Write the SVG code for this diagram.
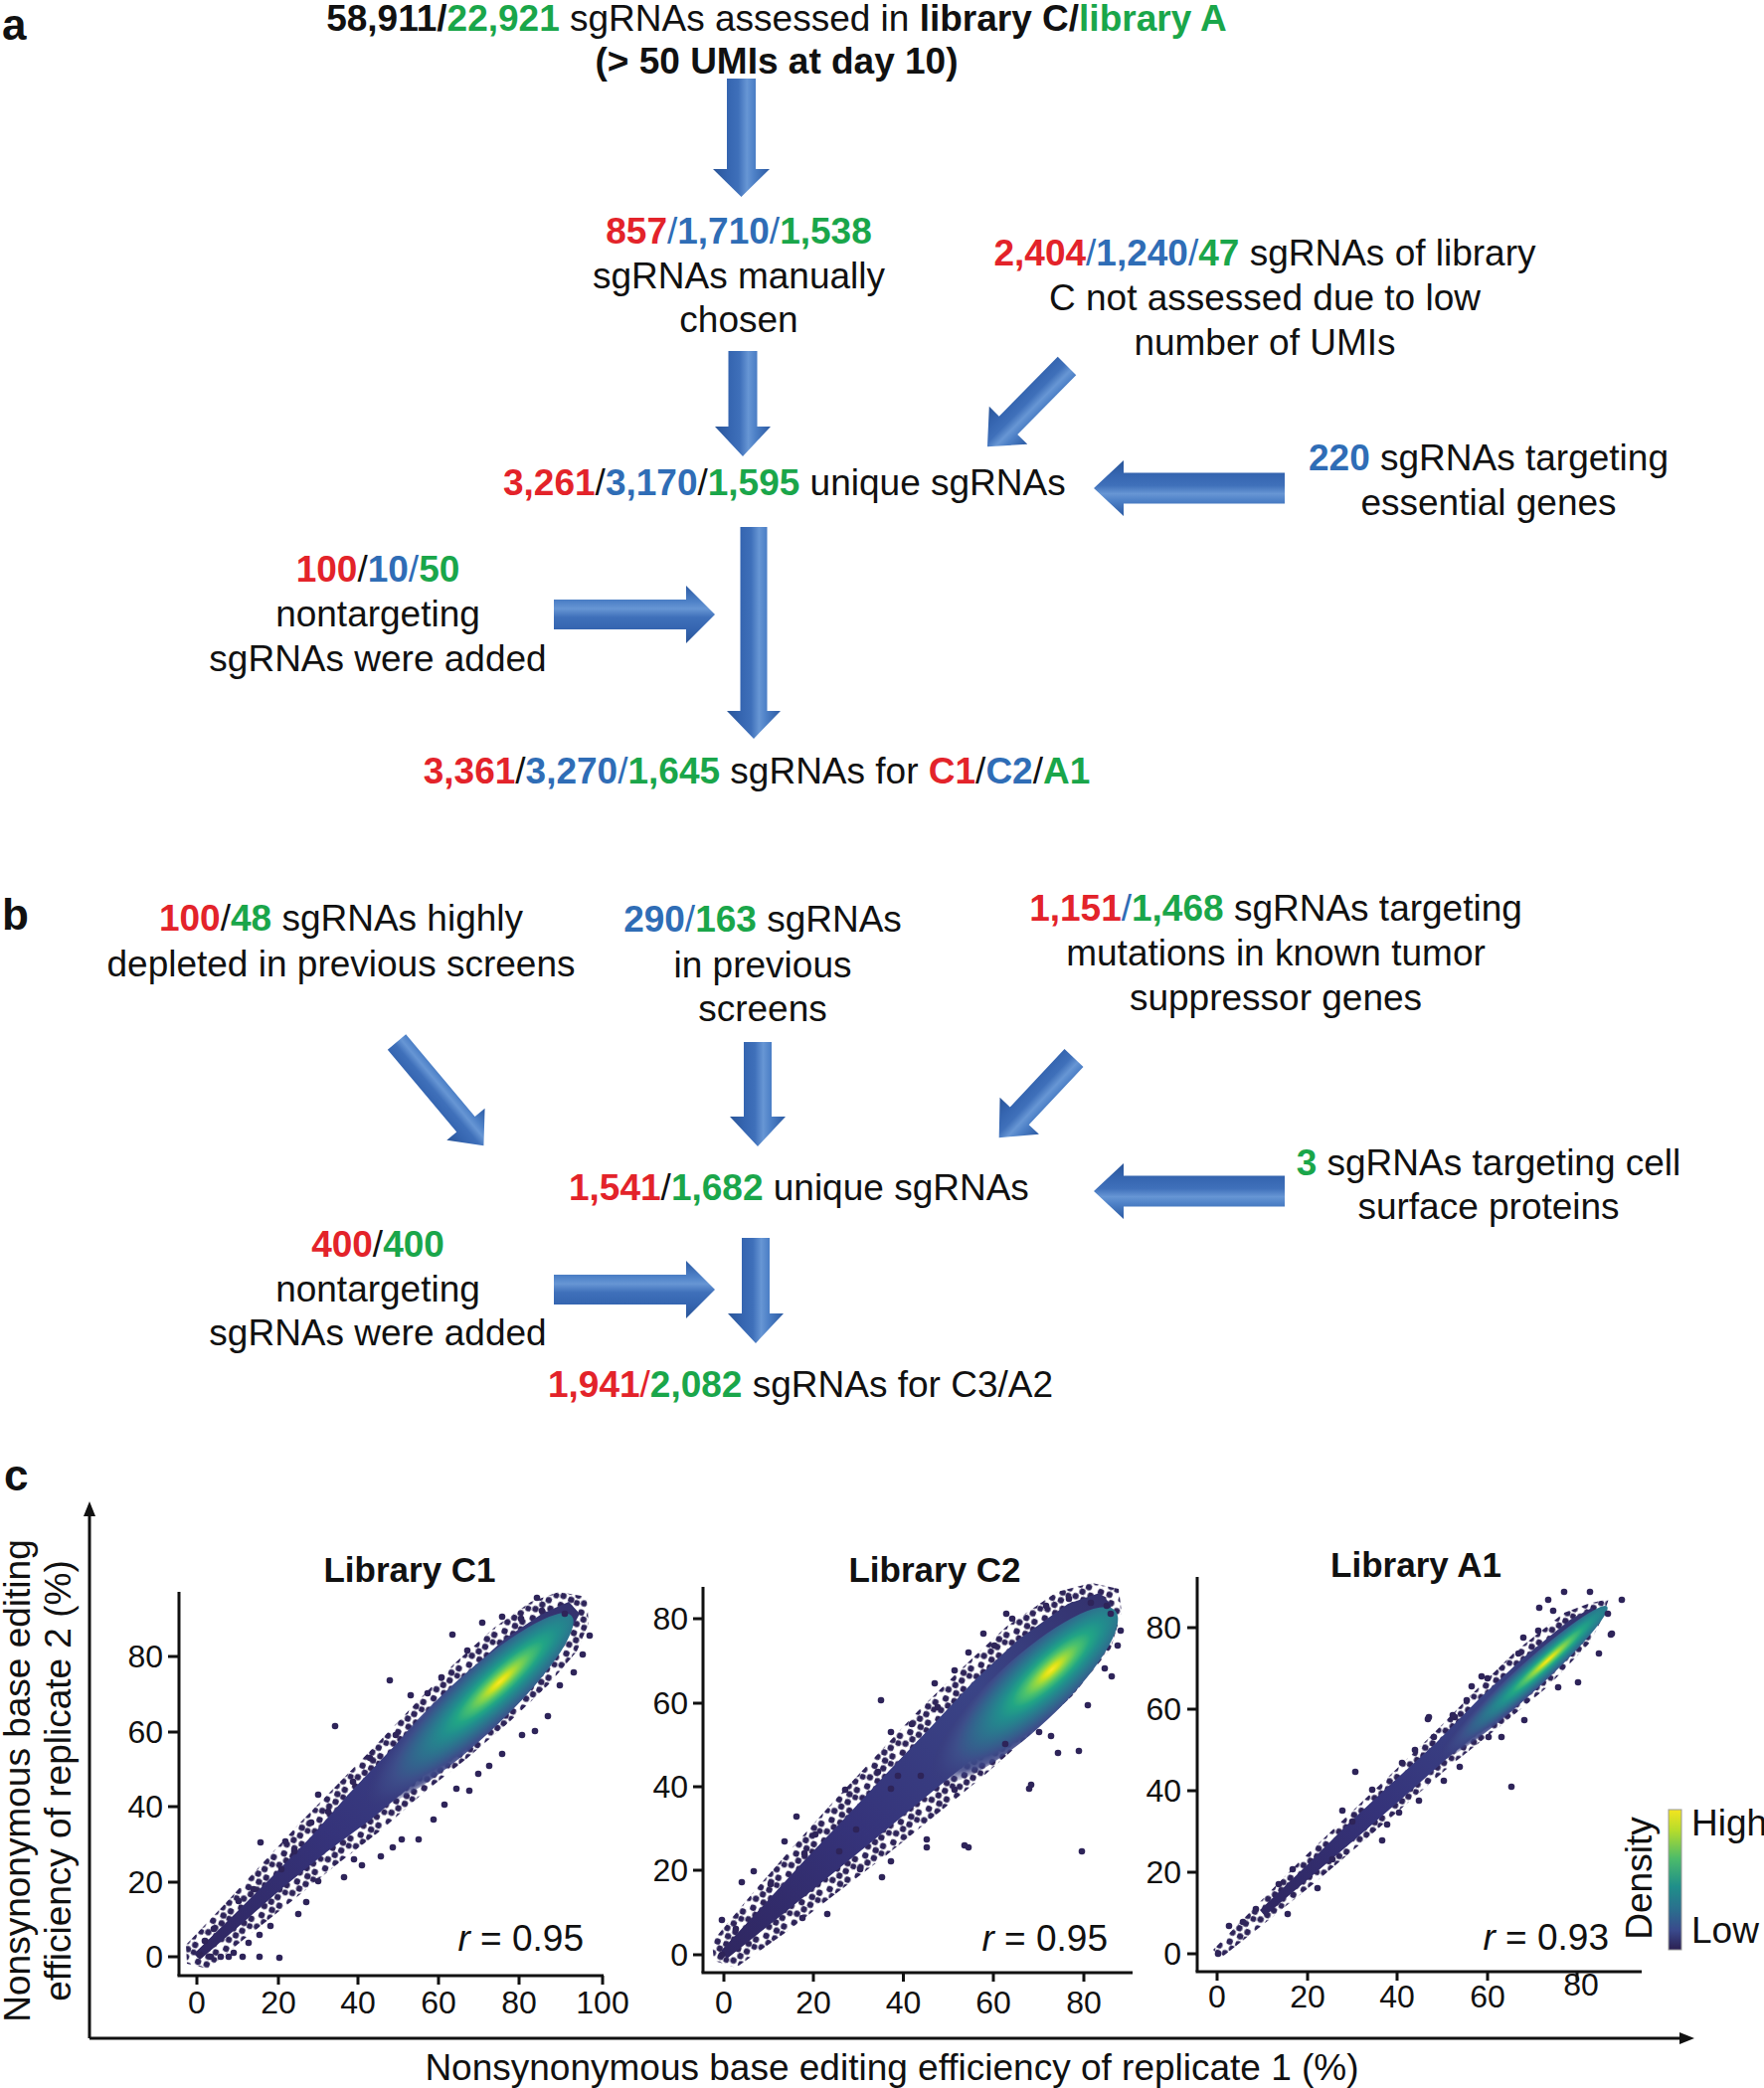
<svg xmlns="http://www.w3.org/2000/svg" width="1774" height="2100" viewBox="0 0 1774 2100">
<style>
.t{font-family:"Liberation Sans",Arial,sans-serif;font-size:37px;fill:#111}
.b{font-weight:bold}
.r{fill:#e3232a}.u{fill:#2f6db6}.g{fill:#1aa64a}.k{fill:#111}
.lab{font-family:"Liberation Sans",Arial,sans-serif;font-weight:bold;font-size:44px;fill:#111}
.tk{font-family:"Liberation Sans",Arial,sans-serif;font-size:32px;fill:#111}
.ttl{font-family:"Liberation Sans",Arial,sans-serif;font-size:35px;font-weight:bold;fill:#111}
.ax{stroke:#111;stroke-width:3;fill:none}
.d{fill:#2e2459}
.arr{fill:url(#ag)}
.ob{fill:url(#pd)}
.ib{fill:url(#bandg)}
</style>
<defs>
<linearGradient id="ag" x1="0" y1="0" x2="0" y2="1">
<stop offset="0" stop-color="#2b5aa3"/>
<stop offset="0.28" stop-color="#4f82c8"/>
<stop offset="0.4" stop-color="#6796d4"/>
<stop offset="0.55" stop-color="#3f70ba"/>
<stop offset="0.75" stop-color="#3565b0"/>
<stop offset="1" stop-color="#2a5598"/>
</linearGradient>
<linearGradient id="bandg" x1="0" y1="1" x2="1" y2="0">
<stop offset="0" stop-color="#2f2660"/>
<stop offset="0.35" stop-color="#35337a"/>
<stop offset="0.7" stop-color="#3a4486"/>
<stop offset="1" stop-color="#33306c"/>
</linearGradient>
<pattern id="pd" patternUnits="userSpaceOnUse" width="22" height="22" patternTransform="rotate(20)">
<circle class="d" cx="4" cy="4" r="3.2"/><circle class="d" cx="13" cy="3.5" r="3.2"/><circle class="d" cx="8.5" cy="10" r="3.2"/><circle class="d" cx="17.5" cy="11" r="3.2"/><circle class="d" cx="3.5" cy="16.5" r="3.2"/><circle class="d" cx="12" cy="17.5" r="3.2"/><circle class="d" cx="18.5" cy="18.5" r="3"/>
</pattern>
<radialGradient id="vir" cx="0.65" cy="0.5" fx="0.65" fy="0.5" r="0.65">
<stop offset="0" stop-color="#fde725"/>
<stop offset="0.06" stop-color="#d8e219"/>
<stop offset="0.13" stop-color="#8fd744"/>
<stop offset="0.22" stop-color="#4ac16d"/>
<stop offset="0.32" stop-color="#21a585"/>
<stop offset="0.42" stop-color="#218e8d"/>
<stop offset="0.54" stop-color="#2a788e"/>
<stop offset="0.66" stop-color="#33638d"/>
<stop offset="0.78" stop-color="#3d4e8a"/>
<stop offset="0.88" stop-color="#3b4384" stop-opacity="0.85"/>
<stop offset="1" stop-color="#383a7a" stop-opacity="0"/>
</radialGradient>
<linearGradient id="cb" x1="0" y1="0" x2="0" y2="1">
<stop offset="0" stop-color="#f4e41f"/>
<stop offset="0.15" stop-color="#b5dc2c"/>
<stop offset="0.35" stop-color="#4cbb6a"/>
<stop offset="0.55" stop-color="#1f8f8a"/>
<stop offset="0.72" stop-color="#2b6d8e"/>
<stop offset="0.86" stop-color="#3a4a8c"/>
<stop offset="1" stop-color="#2b1f52"/>
</linearGradient>
<clipPath id="c1"><rect x="182" y="1560" width="440" height="1412"/></clipPath>
<clipPath id="c2"><rect x="709" y="1560" width="440" height="1410"/></clipPath>
<clipPath id="c3"><rect x="1206" y="1560" width="450" height="1409"/></clipPath>
</defs>
<rect width="1774" height="2100" fill="#fff"/>

<!-- panel labels -->
<text class="lab" x="2" y="40">a</text>
<text class="lab" x="2" y="935">b</text>
<text class="lab" x="4" y="1499">c</text>

<!-- ===== Panel a nodes ===== -->
<g id="a-start">
<text class="t b" text-anchor="middle" x="781" y="31"><tspan class="k">58,911</tspan><tspan class="k">/</tspan><tspan class="g">22,921</tspan><tspan font-weight="normal"> sgRNAs assessed in </tspan>library C/<tspan class="g">library A</tspan></text>
<text class="t b" text-anchor="middle" x="781" y="74">(&gt; 50 UMIs at day 10)</text>
</g>
<g id="a-manual">
<text class="t" text-anchor="middle" x="743" y="245"><tspan class="r b">857</tspan><tspan class="u">/</tspan><tspan class="u b">1,710</tspan><tspan class="u">/</tspan><tspan class="g b">1,538</tspan></text>
<text class="t" text-anchor="middle" x="743" y="290">sgRNAs manually</text>
<text class="t" text-anchor="middle" x="743" y="334">chosen</text>
</g>
<g id="a-lowumi">
<text class="t" text-anchor="middle" x="1272" y="267"><tspan class="r b">2,404</tspan><tspan class="u">/</tspan><tspan class="u b">1,240</tspan><tspan class="u">/</tspan><tspan class="g b">47</tspan> sgRNAs of library</text>
<text class="t" text-anchor="middle" x="1272" y="312">C not assessed due to low</text>
<text class="t" text-anchor="middle" x="1272" y="357">number of UMIs</text>
</g>
<g id="a-unique">
<text class="t" x="506" y="498"><tspan class="r b">3,261</tspan>/<tspan class="u b">3,170</tspan>/<tspan class="g b">1,595</tspan> unique sgRNAs</text>
</g>
<g id="a-essential">
<text class="t" text-anchor="middle" x="1497" y="473"><tspan class="u b">220</tspan> sgRNAs targeting</text>
<text class="t" text-anchor="middle" x="1497" y="518">essential genes</text>
</g>
<g id="a-nontarget">
<text class="t" text-anchor="middle" x="380" y="585"><tspan class="r b">100</tspan>/<tspan class="u b">10</tspan><tspan class="u">/</tspan><tspan class="g b">50</tspan></text>
<text class="t" text-anchor="middle" x="380" y="630">nontargeting</text>
<text class="t" text-anchor="middle" x="380" y="675">sgRNAs were added</text>
</g>
<g id="a-final">
<text class="t" text-anchor="middle" x="761" y="788"><tspan class="r b">3,361</tspan>/<tspan class="u b">3,270</tspan><tspan class="u">/</tspan><tspan class="g b">1,645</tspan> sgRNAs for <tspan class="r b">C1</tspan>/<tspan class="u b">C2</tspan>/<tspan class="g b">A1</tspan></text>
</g>

<!-- ===== Panel b nodes ===== -->
<g id="b-depleted">
<text class="t" text-anchor="middle" x="343" y="936"><tspan class="r b">100</tspan>/<tspan class="g b">48</tspan> sgRNAs highly</text>
<text class="t" text-anchor="middle" x="343" y="982">depleted in previous screens</text>
</g>
<g id="b-previous">
<text class="t" text-anchor="middle" x="767" y="937"><tspan class="u b">290</tspan><tspan class="u">/</tspan><tspan class="g b">163</tspan> sgRNAs</text>
<text class="t" text-anchor="middle" x="767" y="983">in previous</text>
<text class="t" text-anchor="middle" x="767" y="1027">screens</text>
</g>
<g id="b-tsg">
<text class="t" text-anchor="middle" x="1283" y="926"><tspan class="r b">1,151</tspan><tspan class="u">/</tspan><tspan class="g b">1,468</tspan> sgRNAs targeting</text>
<text class="t" text-anchor="middle" x="1283" y="971">mutations in known tumor</text>
<text class="t" text-anchor="middle" x="1283" y="1016">suppressor genes</text>
</g>
<g id="b-unique">
<text class="t" x="572" y="1207"><tspan class="r b">1,541</tspan>/<tspan class="g b">1,682</tspan> unique sgRNAs</text>
</g>
<g id="b-surface">
<text class="t" text-anchor="middle" x="1497" y="1182"><tspan class="g b">3</tspan> sgRNAs targeting cell</text>
<text class="t" text-anchor="middle" x="1497" y="1226">surface proteins</text>
</g>
<g id="b-nontarget">
<text class="t" text-anchor="middle" x="380" y="1264"><tspan class="r b">400</tspan>/<tspan class="g b">400</tspan></text>
<text class="t" text-anchor="middle" x="380" y="1309">nontargeting</text>
<text class="t" text-anchor="middle" x="380" y="1353">sgRNAs were added</text>
</g>
<g id="b-final">
<text class="t" text-anchor="middle" x="805" y="1405"><tspan class="r b">1,941</tspan><tspan class="r">/</tspan><tspan class="g b">2,082</tspan> sgRNAs for C3/A2</text>
</g>

<!-- ===== connectors ===== -->
<g id="connectors">
<polygon class="arr" transform="translate(745.5,79) rotate(90)" points="0,-14.5 91,-14.5 91,-28.5 119,0 91,28.5 91,14.5 0,14.5"/>
<polygon class="arr" transform="translate(747,353) rotate(90)" points="0,-14.5 76,-14.5 76,-28 106,0 76,28 76,14.5 0,14.5"/>
<polygon class="arr" transform="translate(1073,368) rotate(134.6)" points="0,-13 84,-13 84,-27 114,0 84,27 84,13 0,13"/>
<polygon class="arr" transform="translate(1292,491) rotate(180)" points="0,-15.5 162,-15.5 162,-28 192,0 162,28 162,15.5 0,15.5"/>
<polygon class="arr" transform="translate(758,530) rotate(90)" points="0,-13.5 185,-13.5 185,-27 213,0 185,27 185,13.5 0,13.5"/>
<polygon class="arr" transform="translate(557,618)" points="0,-15 133,-15 133,-29 162,0 133,29 133,15 0,15"/>
<polygon class="arr" transform="translate(399,1048) rotate(50)" points="0,-12 108,-12 108,-25 136,0 108,25 108,12 0,12"/>
<polygon class="arr" transform="translate(762,1048) rotate(90)" points="0,-14 75,-14 75,-28 105,0 75,28 75,14 0,14"/>
<polygon class="arr" transform="translate(1080,1064) rotate(133.2)" points="0,-13 80,-13 80,-27 110,0 80,27 80,13 0,13"/>
<polygon class="arr" transform="translate(1292,1198) rotate(180)" points="0,-15.5 162,-15.5 162,-28 192,0 162,28 162,15.5 0,15.5"/>
<polygon class="arr" transform="translate(557,1297)" points="0,-15 133,-15 133,-29 162,0 133,29 133,15 0,15"/>
<polygon class="arr" transform="translate(760,1245) rotate(90)" points="0,-14 76,-14 76,-28 106,0 76,28 76,14 0,14"/>
</g>

<!-- ===== Panel c ===== -->
<g id="c-axes">
<line class="ax" x1="90" y1="2050" x2="90" y2="1522"/>
<polygon points="90,1510 84,1525 96,1525" fill="#111"/>
<line class="ax" x1="90" y1="2050" x2="1691" y2="2050"/>
<polygon points="1704,2050 1689,2044 1689,2056" fill="#111"/>
<text class="t" text-anchor="middle" transform="translate(30,1791) rotate(-90)">Nonsynonymous base editing</text>
<text class="t" text-anchor="middle" transform="translate(71,1791) rotate(-90)">efficiency of replicate 2 (%)</text>
<text class="t" text-anchor="middle" x="897" y="2092">Nonsynonymous base editing efficiency of replicate 1 (%)</text>
</g>

<!-- C1 -->
<g id="plot-c1">
<text class="ttl" text-anchor="middle" x="412" y="1591">Library C1</text>
<g clip-path="url(#c1)">
<polygon class="ob" points="187,1956 225,1916 263,1875 301,1834 340,1794 379,1754 417,1714 456,1674 497,1637 534,1611 562,1601 590,1606 592,1633 580,1661 551,1695 511,1733 469,1769 425,1804 383,1841 339,1875 296,1910 252,1945 209,1980 188,1975"/>
<polygon class="ib" points="195,1965 235,1926 274,1887 313,1847 350,1805 388,1765 427,1724 467,1685 508,1648 545,1623 572,1611 583,1623 569,1649 541,1684 501,1722 459,1759 416,1794 373,1830 328,1863 285,1898 243,1935 201,1971"/>
<ellipse transform="translate(472,1720) rotate(-42.8)" rx="140" ry="30" fill="url(#vir)"/>
<g class="d">
<circle cx="392" cy="1690" r="3.3"/><circle cx="337" cy="1736" r="3.3"/><circle cx="455" cy="1644" r="3.3"/><circle cx="485" cy="1632" r="3.3"/><circle cx="551" cy="1726" r="3.3"/><circle cx="538" cy="1741" r="3.3"/><circle cx="472" cy="1801" r="3.3"/><circle cx="421" cy="1850" r="3.3"/><circle cx="404" cy="1850" r="3.3"/><circle cx="383" cy="1867" r="3.3"/><circle cx="262" cy="1853" r="3.3"/><circle cx="281" cy="1969" r="3.3"/><circle cx="272" cy="1937" r="3.3"/><circle cx="308" cy="1913" r="3.3"/><circle cx="346" cy="1888" r="3.3"/><circle cx="364" cy="1876" r="3.3"/><circle cx="586" cy="1664" r="3.3"/><circle cx="568" cy="1623" r="3.3"/><circle cx="545" cy="1620" r="3.3"/><circle cx="524" cy="1628" r="3.3"/><circle cx="444" cy="1687" r="3.3"/><circle cx="413" cy="1705" r="3.3"/><circle cx="320" cy="1805" r="3.3"/><circle cx="313" cy="1833" r="3.3"/><circle cx="287" cy="1852" r="3.3"/><circle cx="261" cy="1968" r="3.3"/><circle cx="230" cy="1968" r="3.3"/><circle cx="212" cy="1968" r="3.3"/><circle cx="201" cy="1966" r="3.3"/><circle cx="577" cy="1682" r="3.3"/><circle cx="563" cy="1695" r="3.3"/><circle cx="505" cy="1764" r="3.3"/><circle cx="481" cy="1784" r="3.3"/><circle cx="459" cy="1799" r="3.3"/><circle cx="250" cy="1954" r="3.3"/><circle cx="261" cy="1946" r="3.3"/><circle cx="235" cy="1964" r="3.3"/><circle cx="244" cy="1968" r="3.3"/><circle cx="222" cy="1968" r="3.3"/><circle cx="206" cy="1952" r="3.3"/><circle cx="215" cy="1940" r="3.3"/><circle cx="240" cy="1912" r="3.3"/><circle cx="255" cy="1900" r="3.3"/><circle cx="283" cy="1880" r="3.3"/><circle cx="296" cy="1862" r="3.3"/><circle cx="330" cy="1822" r="3.3"/><circle cx="355" cy="1792" r="3.3"/><circle cx="372" cy="1768" r="3.3"/><circle cx="398" cy="1745" r="3.3"/><circle cx="430" cy="1703" r="3.3"/><circle cx="470" cy="1660" r="3.3"/><circle cx="505" cy="1626" r="3.3"/><circle cx="540" cy="1607" r="3.3"/><circle cx="593" cy="1645" r="3.3"/><circle cx="525" cy="1745" r="3.3"/><circle cx="492" cy="1776" r="3.3"/><circle cx="447" cy="1815" r="3.3"/><circle cx="436" cy="1830" r="3.3"/><circle cx="395" cy="1858" r="3.3"/><circle cx="356" cy="1870" r="3.3"/><circle cx="320" cy="1892" r="3.3"/><circle cx="300" cy="1925" r="3.3"/>
</g>
</g>
<line class="ax" x1="180" y1="1601" x2="180" y2="1987"/>
<line class="ax" x1="178.5" y1="1987" x2="607" y2="1987"/>
<path class="ax" d="M169,1968H180M169,1893H180M169,1817H180M169,1742H180M169,1666H180M198,1987V1996M280,1987V1996M360,1987V1996M441,1987V1996M522,1987V1996M606,1987V1996"/>
<g class="tk" text-anchor="end">
<text x="164" y="1979">0</text><text x="164" y="1904">20</text><text x="164" y="1828">40</text><text x="164" y="1753">60</text><text x="164" y="1677">80</text>
</g>
<g class="tk" text-anchor="middle">
<text x="198" y="2025">0</text><text x="280" y="2025">20</text><text x="360" y="2025">40</text><text x="441" y="2025">60</text><text x="522" y="2025">80</text><text x="606" y="2025">100</text>
</g>
<text class="t" text-anchor="end" x="587" y="1962"><tspan font-style="italic">r</tspan> = 0.95</text>
</g>

<!-- C2 -->
<g id="plot-c2">
<text class="ttl" text-anchor="middle" x="940" y="1591">Library C2</text>
<g clip-path="url(#c2)">
<polygon class="ob" points="716,1953 756,1905 797,1858 838,1812 880,1767 923,1721 967,1678 1012,1636 1063,1601 1098,1592 1125,1598 1128,1621 1117,1658 1078,1706 1032,1748 986,1789 938,1828 890,1867 840,1905 791,1943 740,1979 718,1972"/>
<polygon class="ib" points="725,1962 767,1917 809,1871 852,1826 894,1781 937,1736 979,1691 1024,1649 1074,1613 1106,1602 1118,1614 1106,1646 1065,1693 1020,1735 972,1774 924,1813 876,1853 828,1892 780,1931 731,1970"/>
<ellipse transform="translate(1030,1705) rotate(-43)" rx="125" ry="34" fill="url(#vir)"/>
<g class="d">
<circle cx="886" cy="1710" r="3.3"/><circle cx="896" cy="1742" r="3.3"/><circle cx="917" cy="1734" r="3.3"/><circle cx="943" cy="1717" r="3.3"/><circle cx="940" cy="1693" r="3.3"/><circle cx="960" cy="1680" r="3.3"/><circle cx="974" cy="1662" r="3.3"/><circle cx="989" cy="1643" r="3.3"/><circle cx="1012" cy="1623" r="3.3"/><circle cx="1018" cy="1628" r="3.3"/><circle cx="1075" cy="1608" r="3.3"/><circle cx="1097" cy="1612" r="3.3"/><circle cx="1113" cy="1615" r="3.3"/><circle cx="1117" cy="1623" r="3.3"/><circle cx="1118" cy="1686" r="3.3"/><circle cx="1111" cy="1678" r="3.3"/><circle cx="1094" cy="1715" r="3.3"/><circle cx="1085" cy="1761" r="3.3"/><circle cx="1064" cy="1763" r="3.3"/><circle cx="1037" cy="1795" r="3.3"/><circle cx="1035" cy="1799" r="3.3"/><circle cx="1088" cy="1862" r="3.3"/><circle cx="974" cy="1858" r="3.3"/><circle cx="970" cy="1856" r="3.3"/><circle cx="932" cy="1858" r="3.3"/><circle cx="932" cy="1850" r="3.3"/><circle cx="896" cy="1872" r="3.3"/><circle cx="887" cy="1888" r="3.3"/><circle cx="903" cy="1786" r="3.3"/><circle cx="926" cy="1786" r="3.3"/><circle cx="1011" cy="1754" r="3.3"/><circle cx="1045" cy="1742" r="3.3"/><circle cx="1057" cy="1746" r="3.3"/><circle cx="883" cy="1782" r="3.3"/><circle cx="896" cy="1799" r="3.3"/><circle cx="801" cy="1827" r="3.3"/><circle cx="789" cy="1852" r="3.3"/><circle cx="832" cy="1925" r="3.3"/><circle cx="807" cy="1929" r="3.3"/><circle cx="758" cy="1882" r="3.3"/><circle cx="746" cy="1893" r="3.3"/><circle cx="726" cy="1931" r="3.3"/><circle cx="726" cy="1966" r="3.3"/><circle cx="809" cy="1864" r="3.3"/><circle cx="844" cy="1862" r="3.3"/><circle cx="861" cy="1840" r="3.3"/><circle cx="1127" cy="1640" r="3.3"/><circle cx="1124" cy="1655" r="3.3"/><circle cx="1052" cy="1615" r="3.3"/><circle cx="1000" cy="1655" r="3.3"/><circle cx="850" cy="1800" r="3.3"/><circle cx="820" cy="1845" r="3.3"/><circle cx="775" cy="1895" r="3.3"/><circle cx="740" cy="1940" r="3.3"/><circle cx="865" cy="1880" r="3.3"/><circle cx="960" cy="1800" r="3.3"/>
</g>
</g>
<line class="ax" x1="707" y1="1596" x2="707" y2="1984"/>
<line class="ax" x1="705.5" y1="1984" x2="1139" y2="1984"/>
<path class="ax" d="M697,1966H707M697,1881H707M697,1797H707M697,1713H707M697,1628H707M728,1984V1993M818,1984V1993M908.5,1984V1993M999,1984V1993M1090,1984V1993"/>
<g class="tk" text-anchor="end">
<text x="692" y="1977">0</text><text x="692" y="1892">20</text><text x="692" y="1808">40</text><text x="692" y="1724">60</text><text x="692" y="1639">80</text>
</g>
<g class="tk" text-anchor="middle">
<text x="728" y="2025">0</text><text x="818" y="2025">20</text><text x="908.5" y="2025">40</text><text x="999" y="2025">60</text><text x="1090" y="2025">80</text>
</g>
<text class="t" text-anchor="end" x="1114" y="1962"><tspan font-style="italic">r</tspan> = 0.95</text>
</g>

<!-- A1 -->
<g id="plot-a1">
<text class="ttl" text-anchor="middle" x="1424" y="1586">Library A1</text>
<g clip-path="url(#c3)">
<polygon class="ob" points="1220,1961 1263,1917 1306,1873 1350,1831 1394,1789 1438,1747 1481,1703 1525,1660 1573,1622 1597,1613 1618,1608 1611,1628 1599,1652 1557,1696 1510,1735 1462,1773 1416,1813 1370,1853 1323,1893 1276,1931 1228,1969"/>
<polygon class="ib" points="1267,1921 1311,1879 1354,1836 1399,1794 1444,1753 1487,1709 1531,1668 1579,1629 1601,1617 1607,1624 1593,1645 1550,1688 1504,1729 1457,1767 1411,1808 1365,1848 1319,1887 1272,1927"/>
<ellipse transform="translate(1531,1693) rotate(-42.2)" rx="115" ry="14" fill="url(#vir)"/>
<g class="d">
<circle cx="1520" cy="1797" r="3.3"/><circle cx="1573" cy="1601" r="3.3"/><circle cx="1599" cy="1601" r="3.3"/><circle cx="1631" cy="1609" r="3.3"/><circle cx="1617" cy="1623" r="3.3"/><circle cx="1621" cy="1643" r="3.3"/><circle cx="1608" cy="1663" r="3.3"/><circle cx="1587" cy="1692" r="3.3"/><circle cx="1567" cy="1697" r="3.3"/><circle cx="1533" cy="1730" r="3.3"/><circle cx="1510" cy="1747" r="3.3"/><circle cx="1497" cy="1747" r="3.3"/><circle cx="1468" cy="1777" r="3.3"/><circle cx="1452" cy="1791" r="3.3"/><circle cx="1427" cy="1811" r="3.3"/><circle cx="1407" cy="1823" r="3.3"/><circle cx="1480" cy="1696" r="3.3"/><circle cx="1490" cy="1686" r="3.3"/><circle cx="1475" cy="1710" r="3.3"/><circle cx="1463" cy="1727" r="3.3"/><circle cx="1437" cy="1727" r="3.3"/><circle cx="1442" cy="1747" r="3.3"/><circle cx="1423" cy="1760" r="3.3"/><circle cx="1410" cy="1773" r="3.3"/><circle cx="1547" cy="1640" r="3.3"/><circle cx="1548" cy="1617" r="3.3"/><circle cx="1562" cy="1620" r="3.3"/><circle cx="1532" cy="1647" r="3.3"/><circle cx="1527" cy="1663" r="3.3"/><circle cx="1363" cy="1782" r="3.3"/><circle cx="1295" cy="1925" r="3.3"/><circle cx="1325" cy="1899" r="3.3"/><circle cx="1225" cy="1965" r="3.3"/><circle cx="1236" cy="1937" r="3.3"/><circle cx="1250" cy="1933" r="3.3"/><circle cx="1263" cy="1920" r="3.3"/><circle cx="1390" cy="1851" r="3.3"/><circle cx="1350" cy="1821" r="3.3"/><circle cx="1360" cy="1832" r="3.3"/><circle cx="1557" cy="1609" r="3.3"/><circle cx="1620" cy="1644" r="3.3"/><circle cx="1436" cy="1729" r="3.3"/><circle cx="1461" cy="1725" r="3.3"/><circle cx="1496" cy="1688" r="3.3"/><circle cx="1286" cy="1895" r="3.3"/><circle cx="1300" cy="1880" r="3.3"/><circle cx="1340" cy="1870" r="3.3"/><circle cx="1380" cy="1800" r="3.3"/><circle cx="1395" cy="1835" r="3.3"/>
</g>
</g>
<line class="ax" x1="1204" y1="1586" x2="1204" y2="1983"/>
<line class="ax" x1="1202.5" y1="1983" x2="1651" y2="1983"/>
<path class="ax" d="M1194,1965H1204M1194,1883H1204M1194,1801H1204M1194,1719H1204M1194,1637H1204M1224,1983V1992M1315,1983V1992M1405,1983V1992M1496,1983V1992M1586,1983V1992"/>
<g class="tk" text-anchor="end">
<text x="1188" y="1976">0</text><text x="1188" y="1894">20</text><text x="1188" y="1812">40</text><text x="1188" y="1730">60</text><text x="1188" y="1648">80</text>
</g>
<g class="tk" text-anchor="middle">
<text x="1224" y="2019">0</text><text x="1315" y="2019">20</text><text x="1405" y="2019">40</text><text x="1496" y="2019">60</text><text x="1590" y="2007">80</text>
</g>
<text class="t" text-anchor="end" x="1618" y="1961"><tspan font-style="italic">r</tspan> = 0.93</text>
</g>

<!-- legend -->
<g id="legend">
<rect x="1678" y="1820" width="13" height="141" fill="url(#cb)" stroke="#9a9a9a" stroke-width="1"/>
<text class="t" font-size="36" text-anchor="middle" transform="translate(1661,1889) rotate(-90)">Density</text>
<text class="t" font-size="35" x="1701" y="1846">High</text>
<text class="t" font-size="35" x="1701" y="1954">Low</text>
</g>
</svg>
